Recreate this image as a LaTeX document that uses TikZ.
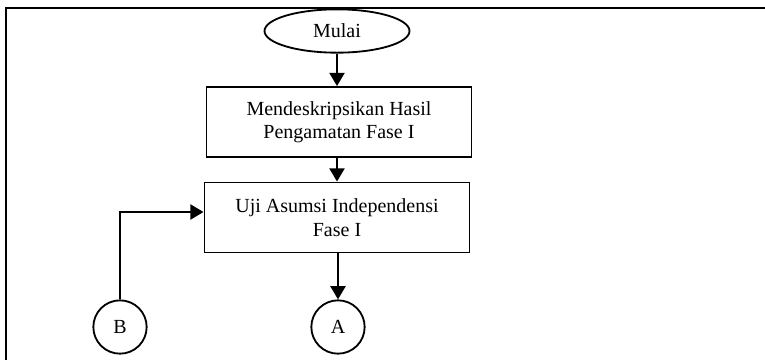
\documentclass[tikz,border=0pt]{standalone}
\usepackage{fontspec}
\setmainfont{Liberation Serif}
\usetikzlibrary{shapes.geometric,arrows.meta}
\begin{document}
\begin{tikzpicture}[x = 0.6pt, y = -0.6pt,
                   every node/.style = {font=\fontsize{12}{14}\selectfont},
                   prosesbox/.style = {draw, line width=1.1pt, rectangle, align=center, minimum width=159pt, minimum height=42pt, inner sep=2pt},
                   terminal/.style = {draw, line width=1.1pt, ellipse, minimum width=87pt, minimum height=26pt, inner sep=0pt},
                   konektor/.style = {draw, line width=1.1pt, circle, minimum size=32pt, inner sep=0pt},
                   panah/.style = {line width=1.5pt, -{Triangle[length=8pt, width=9pt]}}]
                   \clip (0,0) rectangle (765,359);

                   \draw[line width=1.2pt] (6,400) -- (6,8) -- (800,8);

                   \node[terminal]  (mulai) at (337,31)    {Mulai};
                   \node[prosesbox] (hasil) at (339,122)   {Mendeskripsikan Hasil\\Pengamatan Fase I};
                   \node[prosesbox] (uji)   at (337,217.5) {Uji Asumsi Independensi\\Fase I};
                   \node[konektor]  (A)     at (338,327)   {A};
                   \node[konektor]  (B)     at (120,327)   {B};
                   \coordinate (belok) at (120,212);

                   \draw[panah] (mulai.south) -- (mulai.south |- hasil.north);
                   \draw[panah] (uji.north |- hasil.south) -- (uji.north);
                   \draw[panah] (uji.south -| A.north) -- (A.north);
                   \draw[panah] (B.north) -- (belok) -- (belok -| uji.west);
\end{tikzpicture}
\end{document}
